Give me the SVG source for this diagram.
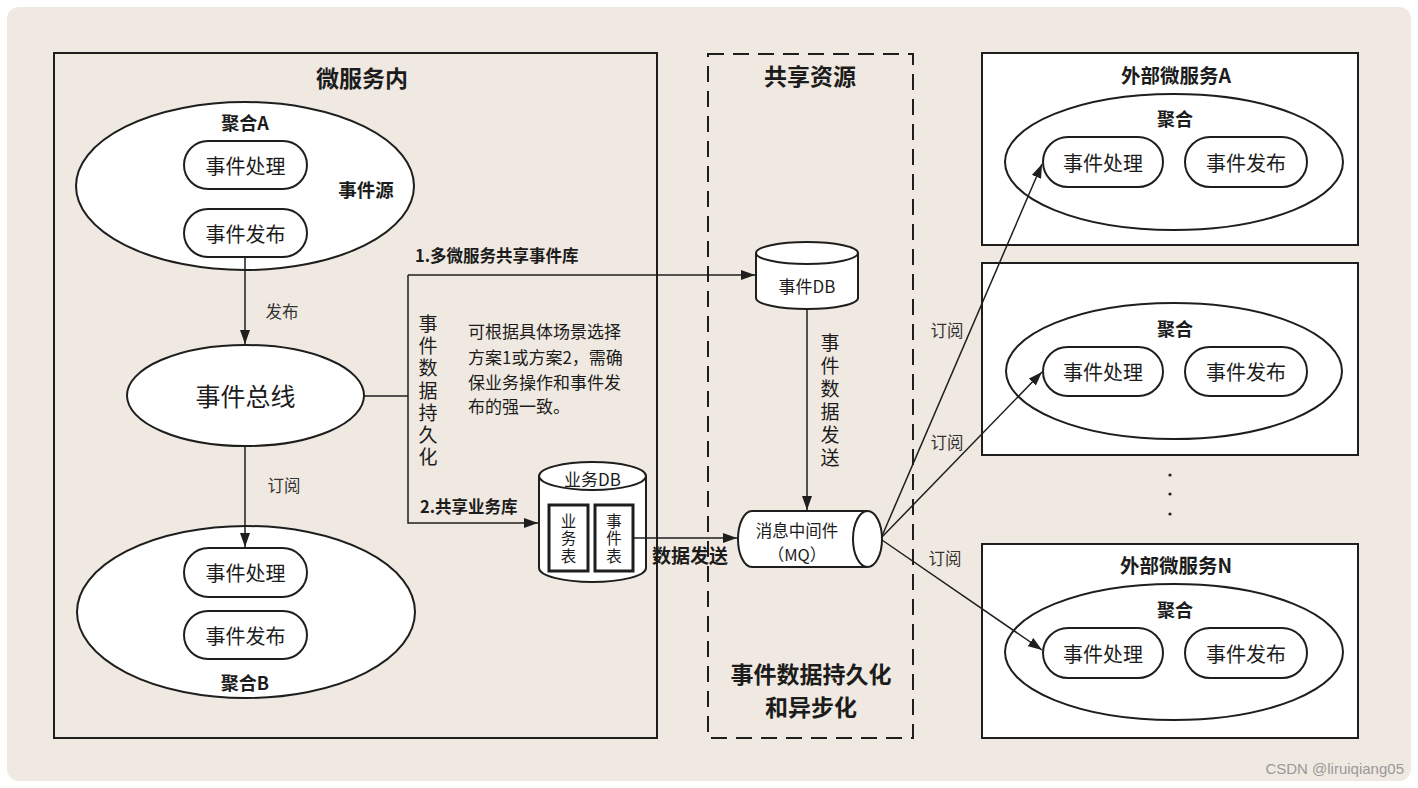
<svg xmlns="http://www.w3.org/2000/svg" width="1418" height="788" viewBox="0 0 1418 788">
<defs>
<style>
text{font-family:"Noto Sans CJK SC","Noto Sans",sans-serif;fill:#1c1c1c;text-anchor:middle;dominant-baseline:central}
.b{font-weight:bold}
.ln{fill:none;stroke:#1e1e1e;stroke-width:1.5}
.sh{fill:#fff;stroke:#1e1e1e;stroke-width:2}
.box{fill:none;stroke:#1e1e1e;stroke-width:2}
.lbl{font-size:16.5px;fill:#333}
.pill{font-size:20px}
.st{text-anchor:start}
.v{writing-mode:vertical-rl;text-anchor:middle}
</style>
<marker id="ah" viewBox="0 0 14 10" refX="14" refY="5" markerWidth="14" markerHeight="10" markerUnits="userSpaceOnUse" orient="auto">
<path d="M0,0 L14,5 L0,10 Z" fill="#1e1e1e"/>
</marker>
</defs>
<rect width="1418" height="788" fill="#fff"/>
<rect x="7" y="7" width="1404" height="774" rx="12" fill="#f0e9e1"/>

<g id="inner-service">
<rect x="54" y="53" width="603" height="685" class="box"/>
<text x="362" y="77" class="b" font-size="23">微服务内</text>
</g>

<g id="aggregate-a">
<ellipse cx="245" cy="186" rx="169" ry="84" class="sh"/>
<text x="245" y="122" class="b" font-size="18">聚合A</text>
<text x="366" y="189" class="b" font-size="18.5">事件源</text>
</g>
<g id="a-handle">
<rect x="184" y="141" width="123" height="48" rx="24" class="sh"/>
<text x="245.5" y="165" class="pill">事件处理</text>
</g>
<g id="a-publish">
<rect x="184" y="209" width="123" height="48" rx="24" class="sh"/>
<text x="245.5" y="233" class="pill">事件发布</text>
</g>

<g id="event-bus">
<ellipse cx="245.5" cy="395.5" rx="118.5" ry="50.5" class="sh"/>
<text x="245.5" y="395" font-size="25">事件总线</text>
</g>

<g id="aggregate-b">
<ellipse cx="246" cy="612" rx="169" ry="86" class="sh"/>
<text x="245" y="682" class="b" font-size="18">聚合B</text>
</g>
<g id="b-handle">
<rect x="184" y="548" width="123" height="49" rx="24.5" class="sh"/>
<text x="245.5" y="572.5" class="pill">事件处理</text>
</g>
<g id="b-publish">
<rect x="184" y="611" width="123" height="48" rx="24" class="sh"/>
<text x="245.5" y="635" class="pill">事件发布</text>
</g>

<g id="shared-resources">
<rect x="708" y="54" width="205" height="684" fill="none" stroke="#1e1e1e" stroke-width="2" stroke-dasharray="16,9"/>
<text x="810" y="75" class="b" font-size="23">共享资源</text>
<text x="811" y="673" class="b" font-size="23">事件数据持久化</text>
<text x="811" y="706" class="b" font-size="23">和异步化</text>
</g>

<g id="event-db">
<path d="M756,253 L756,298 A51,11 0 0 0 858,298 L858,253" class="sh"/>
<ellipse cx="807" cy="253" rx="51" ry="11" class="sh"/>
<text x="807" y="285" font-size="17">事件DB</text>
</g>

<g id="biz-db">
<path d="M539,476 L539,568 A53.5,14 0 0 0 646,568 L646,476" class="sh"/>
<ellipse cx="592.5" cy="476" rx="53.5" ry="14" class="sh"/>
<text x="592.5" y="478" font-size="17">业务DB</text>
<rect x="549" y="505" width="39" height="66" fill="#fff" stroke="#1e1e1e" stroke-width="3"/>
<rect x="595" y="505" width="38" height="66" fill="#fff" stroke="#1e1e1e" stroke-width="3"/>
<text x="568.5" y="539.5" class="v" font-size="15.5" letter-spacing="2">业务表</text>
<text x="614" y="539.5" class="v" font-size="15.5" letter-spacing="2">事件表</text>
</g>

<g id="mq">
<path d="M867,511 L752,511 A14,28 0 0 0 752,567 L867,567" class="sh"/>
<ellipse cx="867.5" cy="539" rx="14.5" ry="28" class="sh"/>
<text x="797" y="529.5" font-size="16.5">消息中间件</text>
<text x="797" y="553.5" font-size="16.5">（MQ）</text>
</g>

<g id="ext-a">
<rect x="982" y="53" width="376" height="192" fill="#fff" stroke="#1e1e1e" stroke-width="2"/>
<text x="1176" y="74" class="b" font-size="19.5">外部微服务A</text>
<ellipse cx="1174" cy="162" rx="169" ry="68" class="sh"/>
<text x="1175" y="118" class="b" font-size="18">聚合</text>
<rect x="1043" y="137" width="120" height="50" rx="25" class="sh"/>
<text x="1103" y="162" class="pill">事件处理</text>
<rect x="1185" y="137" width="122" height="50" rx="25" class="sh"/>
<text x="1246" y="162" class="pill">事件发布</text>
</g>

<g id="ext-2">
<rect x="982" y="263" width="376" height="192" fill="#fff" stroke="#1e1e1e" stroke-width="2"/>
<ellipse cx="1174" cy="371" rx="168" ry="68" class="sh"/>
<text x="1175" y="328" class="b" font-size="18">聚合</text>
<rect x="1043" y="347" width="120" height="49" rx="24.5" class="sh"/>
<text x="1103" y="371.5" class="pill">事件处理</text>
<rect x="1185" y="347" width="122" height="49" rx="24.5" class="sh"/>
<text x="1246" y="371.5" class="pill">事件发布</text>
</g>

<g id="ellipsis-dots" fill="#1e1e1e">
<circle cx="1170" cy="475" r="1.6"/>
<circle cx="1170" cy="494" r="1.6"/>
<circle cx="1170" cy="514" r="1.6"/>
</g>

<g id="ext-n">
<rect x="982" y="544" width="376" height="194" fill="#fff" stroke="#1e1e1e" stroke-width="2"/>
<text x="1176" y="564" class="b" font-size="19.5">外部微服务N</text>
<ellipse cx="1174" cy="652" rx="169" ry="68" class="sh"/>
<text x="1175" y="609" class="b" font-size="18">聚合</text>
<rect x="1043" y="628" width="120" height="50" rx="25" class="sh"/>
<text x="1103" y="653" class="pill">事件处理</text>
<rect x="1185" y="628" width="122" height="50" rx="25" class="sh"/>
<text x="1246" y="653" class="pill">事件发布</text>
</g>

<g id="connectors">
<line x1="245" y1="257" x2="245" y2="344" class="ln" marker-end="url(#ah)"/>
<text x="282" y="311" class="lbl">发布</text>
<line x1="245" y1="446" x2="245" y2="547" class="ln" marker-end="url(#ah)"/>
<text x="284" y="485" class="lbl">订阅</text>
<line x1="364" y1="396" x2="408" y2="396" class="ln"/>
<path d="M408,275 L408,523 L538,523" class="ln" marker-end="url(#ah)"/>
<line x1="408" y1="275" x2="755" y2="275" class="ln" marker-end="url(#ah)"/>
<text x="415" y="255" class="b st" font-size="16.5">1.多微服务共享事件库</text>
<text x="420" y="506" class="b st" font-size="16.5">2.共享业务库</text>
<text x="428" y="392" class="v" font-size="19" letter-spacing="3.3">事件数据持久化</text>
<text font-size="17" class="st"><tspan x="468" y="330">可根据具体场景选择</tspan><tspan x="468" y="356">方案1或方案2，需确</tspan><tspan x="468" y="381">保业务操作和事件发</tspan><tspan x="468" y="405">布的强一致。</tspan></text>
<line x1="807" y1="308" x2="807" y2="510" class="ln" marker-end="url(#ah)"/>
<text x="830" y="402.5" class="v" font-size="19" letter-spacing="4">事件数据发送</text>
<line x1="633" y1="538" x2="737" y2="538" class="ln" marker-end="url(#ah)"/>
<text x="690" y="554" class="b" font-size="19">数据发送</text>
<line x1="882" y1="536" x2="1042" y2="164" class="ln" marker-end="url(#ah)"/>
<line x1="882" y1="537" x2="1042" y2="372" class="ln" marker-end="url(#ah)"/>
<line x1="882" y1="540" x2="1042" y2="650" class="ln" marker-end="url(#ah)"/>
<text x="947" y="330" class="lbl">订阅</text>
<text x="947" y="442" class="lbl">订阅</text>
<text x="945" y="558" class="lbl">订阅</text>
</g>

<text x="1404" y="768" font-size="15" style="fill:#999;text-anchor:end;font-family:'Liberation Sans',sans-serif">CSDN @liruiqiang05</text>
</svg>
